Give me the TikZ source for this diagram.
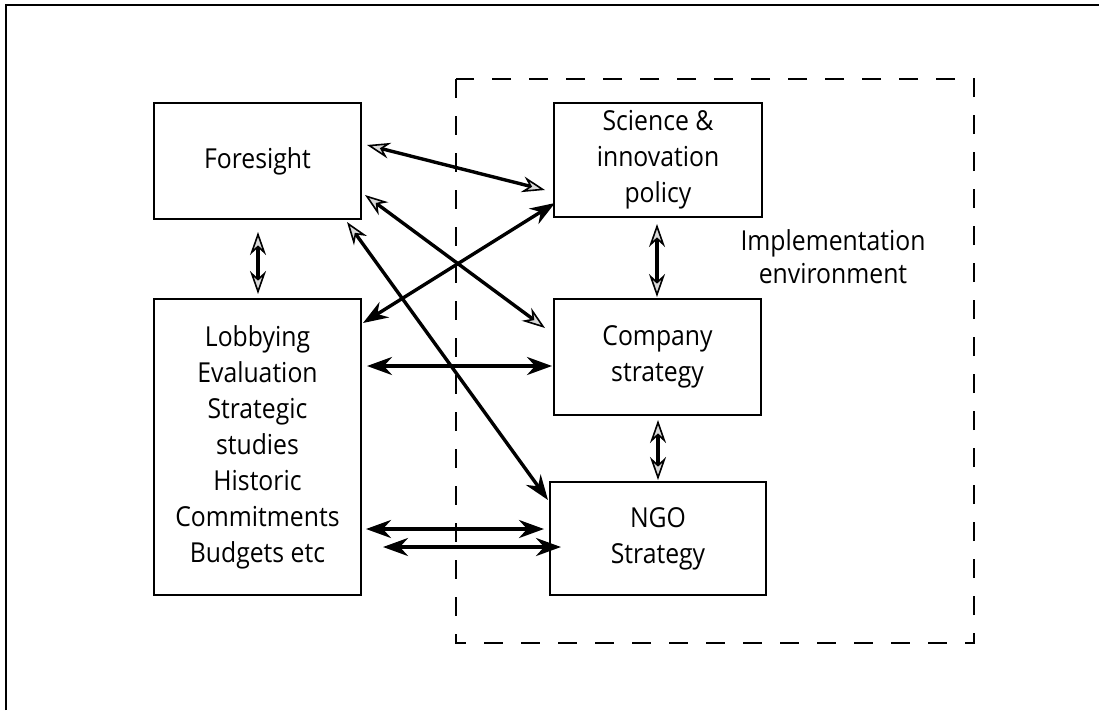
\documentclass[tikz,border=0pt]{standalone}
\usepackage{fontspec}
\setmainfont{Open Sans}[FakeStretch=0.9]
\usetikzlibrary{arrows.meta}
\tikzset{
  oh/.tip={Stealth[length=23pt,width=16pt,fill=gray!30,line width=1.6pt]},
  fh/.tip={Stealth[length=25pt,width=18pt]}}
\begin{document}
\begin{tikzpicture}[x=1pt,y=-1pt,
  box/.style={draw,line width=2pt,inner sep=0pt,align=center,font=\fontsize{27.5}{36}\selectfont},
  lbl/.style={align=center,font=\fontsize{27.5}{33}\selectfont},
  conn/.style={line width=3.4pt}]
\useasboundingbox (0,0) rectangle (1099,710);
% outer frame
\draw[line width=1.6pt] (6,710) -- (6,5) -- (1099,5);
% dashed implementation environment
\draw[line width=1.8pt,dash pattern=on 19pt off 18pt] (456,79) rectangle (974,643);
% boxes
\node[box,minimum width=207pt,minimum height=116pt] (fore) at (257.5,161) {Foresight};
\node[box,minimum width=207pt,minimum height=296pt] (lobby) at (257.5,447) {Lobbying\\Evaluation\\Strategic\\studies\\Historic\\Commitments\\Budgets etc};
\node[box,minimum width=208pt,minimum height=114pt] (sci) at (658,160) {Science \&\\innovation\\policy};
\node[box,minimum width=207pt,minimum height=116pt] (comp) at (657.5,357) {Company\\strategy};
\node[box,minimum width=216pt,minimum height=113pt] (ngo) at (658,538.5) {NGO\\Strategy};
\node[lbl] (impl) at (833,257) {Implementation\\environment};
% connector endpoints
\coordinate (a1) at (367,145); \coordinate (a2) at (545,190);
\coordinate (b1) at (365,195); \coordinate (b2) at (545,328);
\coordinate (c1) at (347,222); \coordinate (c2) at (548,500);
\coordinate (d1) at (555,203); \coordinate (d2) at (363,323);
\coordinate (e1) at (367,366); \coordinate (e2) at (552,366);
\coordinate (f1) at (366,529); \coordinate (f2) at (544,529);
\coordinate (g1) at (383,547); \coordinate (g2) at (561,547);
\coordinate (v1) at (258,232); \coordinate (v2) at (258,294);
\coordinate (w1) at (657,224); \coordinate (w2) at (657,297);
\coordinate (u1) at (658,420); \coordinate (u2) at (658,480);
% connectors
\draw[conn,oh-oh] (a1) -- (a2);
\draw[conn,oh-oh] (b1) -- (b2);
\draw[conn,oh-fh] (c1) -- (c2);
\draw[conn,fh-fh] (d2) -- (d1);
\draw[conn,fh-fh] (e1) -- (e2);
\draw[conn,fh-fh] (f1) -- (f2);
\draw[conn,fh-fh] (g1) -- (g2);
\draw[conn,oh-oh] (v1) -- (v2);
\draw[conn,oh-oh] (w1) -- (w2);
\draw[conn,oh-oh] (u1) -- (u2);
\end{tikzpicture}
\end{document}
